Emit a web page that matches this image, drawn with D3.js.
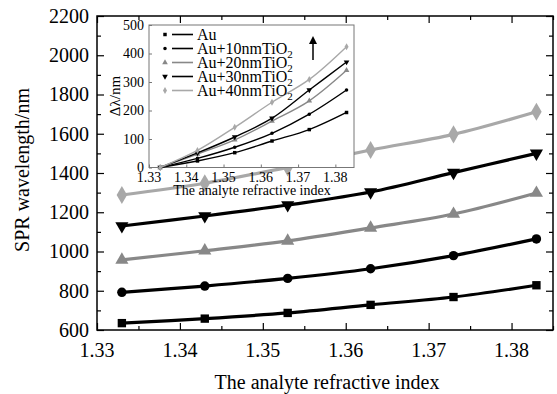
<html>
<head>
    <script src="https://d3js.org/d3.v7.min.js"></script>
    <style>
        body { margin: 0; background: #fff; }
        text { font-family: "Liberation Serif", "Times New Roman", serif; fill: #000; }
        .tick-label { font-size: 20px; }
        .axis-label { font-size: 20px; }
        .inset-label { font-size: 14px; }
    </style>
</head>
<body>
    <svg id="chart" width="557" height="394"></svg>
    <script>
        // data
        const refIndex = [1.333, 1.343, 1.353, 1.363, 1.373, 1.383];
        const au   = [635, 658, 687, 728, 768, 828];
        const au10 = [792, 824, 863, 912, 979, 1064];
        const au20 = [957, 1004, 1054, 1120, 1191, 1298];
        const au30 = [1130, 1181, 1237, 1303, 1402, 1500];
        const au40 = [1288, 1348, 1429, 1517, 1597, 1712];

        // inset: shift of resonance wavelength
        const dAu   = [0, 23, 52, 93, 133, 193];
        const dAu10 = [0, 32, 71, 120, 187, 272];
        const dAu20 = [0, 47, 97, 163, 234, 341];
        const dAu30 = [0, 51, 107, 173, 272, 370];
        const dAu40 = [0, 60, 141, 229, 309, 424];

        const seriesNames = ["Au", "Au+10nmTiO2", "Au+20nmTiO2", "Au+30nmTiO2", "Au+40nmTiO2"];
        const xTicks = [1.33, 1.34, 1.35, 1.36, 1.37, 1.38];
        const yTicks = [600, 800, 1000, 1200, 1400, 1600, 1800, 2000, 2200];
        const insetYTicks = [0, 100, 200, 300, 400, 500];

        const styles = [
            { color: "#000", symbol: d3.symbolSquare, size: 70, isize: 12 },
            { color: "#000", symbol: d3.symbolCircle, size: 70, isize: 10 },
            { color: "#888", symbol: d3.symbolTriangle, size: 75, isize: 14 },
            { color: "#000", symbol: d3.symbolTriangle, size: 75, isize: 14, flip: true },
            { color: "#a8a8a8", symbol: d3.symbolDiamond, size: 95, isize: 14 }
        ];

        const mainData = [au, au10, au20, au30, au40];
        const insetData = [dAu, dAu10, dAu20, dAu30, dAu40];

        const svg = d3.select("#chart");

        const pLeft = 97, pRight = 553, pTop = 16, pBottom = 330;
        const x = d3.scaleLinear().domain([1.33, 1.385]).range([pLeft, pRight]);
        const y = d3.scaleLinear().domain([600, 2200]).range([pBottom, pTop]);

        const minorX = d3.range(1.335, 1.385, 0.01);
        const minorY = d3.range(700, 2200, 200);

        // ticks, pointing inward on all four sides
        function ticks(g, axis, vals, size) {
            g.call(axis.tickValues(vals).tickSize(size).tickFormat(""));
            g.select(".domain").remove();
            g.selectAll("line").attr("stroke", "#000").attr("stroke-width", 1.2);
        }
        ticks(svg.append("g").attr("transform", `translate(0,${pBottom})`), d3.axisBottom(x), xTicks, -7);
        ticks(svg.append("g").attr("transform", `translate(0,${pBottom})`), d3.axisBottom(x), minorX, -4);
        ticks(svg.append("g").attr("transform", `translate(0,${pTop})`), d3.axisTop(x), xTicks, -7);
        ticks(svg.append("g").attr("transform", `translate(0,${pTop})`), d3.axisTop(x), minorX, -4);
        ticks(svg.append("g").attr("transform", `translate(${pLeft},0)`), d3.axisLeft(y), yTicks, -7);
        ticks(svg.append("g").attr("transform", `translate(${pLeft},0)`), d3.axisLeft(y), minorY, -4);
        ticks(svg.append("g").attr("transform", `translate(${pRight},0)`), d3.axisRight(y), yTicks, -7);
        ticks(svg.append("g").attr("transform", `translate(${pRight},0)`), d3.axisRight(y), minorY, -4);

        svg.append("rect")
            .attr("x", pLeft).attr("y", pTop)
            .attr("width", pRight - pLeft).attr("height", pBottom - pTop)
            .attr("fill", "none").attr("stroke", "#000").attr("stroke-width", 1.5);

        svg.selectAll(".xlab")
            .data(xTicks)
            .enter()
            .append("text")
            .attr("class", "tick-label")
            .attr("x", d => x(d))
            .attr("y", 357)
            .attr("text-anchor", "middle")
            .text(d => d.toFixed(2));

        svg.selectAll(".ylab")
            .data(yTicks)
            .enter()
            .append("text")
            .attr("class", "tick-label")
            .attr("x", 89)
            .attr("y", d => y(d))
            .attr("dy", "0.34em")
            .attr("text-anchor", "end")
            .text(d => d);

        svg.append("text")
            .attr("class", "axis-label")
            .attr("x", 327)
            .attr("y", 389)
            .attr("text-anchor", "middle")
            .text("The analyte refractive index");

        svg.append("text")
            .attr("class", "axis-label")
            .attr("transform", "translate(29,170)rotate(-90)")
            .attr("text-anchor", "middle")
            .text("SPR wavelength/nm");

        const line = d3.line()
            .x((d, i) => x(refIndex[i]))
            .y(d => y(d))
            .curve(d3.curveCatmullRom);

        mainData.forEach((vals, k) => {
            const st = styles[k];
            svg.append("path")
                .datum(vals)
                .attr("d", line)
                .attr("fill", "none")
                .attr("stroke", st.color)
                .attr("stroke-width", 3.2);
            svg.selectAll(".m" + k)
                .data(vals)
                .enter()
                .append("path")
                .attr("d", d3.symbol().type(st.symbol).size(st.size))
                .attr("transform", (d, i) => `translate(${x(refIndex[i])},${y(d)})${st.flip ? "rotate(180)" : ""}`)
                .attr("fill", st.color);
        });

        // inset
        const il = 149, ir = 354, it = 25, ib = 167.5;
        const ix = d3.scaleLinear().domain([1.33, 1.385]).range([il, ir]);
        const iy = d3.scaleLinear().domain([0, 500]).range([ib, it]);

        svg.append("rect")
            .attr("x", il).attr("y", it)
            .attr("width", ir - il).attr("height", ib - it)
            .attr("fill", "#fff").attr("stroke", "#777").attr("stroke-width", 1);

        function iticks(g, axis, vals) {
            g.call(axis.tickValues(vals).tickSize(-3).tickFormat(""));
            g.select(".domain").remove();
            g.selectAll("line").attr("stroke", "#777");
        }
        iticks(svg.append("g").attr("transform", `translate(0,${ib})`), d3.axisBottom(ix), xTicks);
        iticks(svg.append("g").attr("transform", `translate(${il},0)`), d3.axisLeft(iy), insetYTicks);

        svg.selectAll(".ixlab")
            .data(xTicks)
            .enter()
            .append("text")
            .attr("class", "inset-label")
            .attr("x", d => ix(d))
            .attr("y", 182)
            .attr("text-anchor", "middle")
            .text(d => d.toFixed(2));

        svg.selectAll(".iylab")
            .data(insetYTicks)
            .enter()
            .append("text")
            .attr("class", "inset-label")
            .attr("x", 144)
            .attr("y", d => iy(d))
            .attr("dy", "0.34em")
            .attr("text-anchor", "end")
            .text(d => d);

        svg.append("text")
            .attr("class", "inset-label")
            .attr("x", 252)
            .attr("y", 195)
            .attr("text-anchor", "middle")
            .text("The analyte refractive index");

        svg.append("text")
            .attr("class", "inset-label")
            .style("font-size", "15px")
            .attr("transform", "translate(120,96)rotate(-90)")
            .attr("text-anchor", "middle")
            .text("Δλ/nm");

        const iline = d3.line()
            .x((d, i) => ix(refIndex[i]))
            .y(d => iy(d))
            .curve(d3.curveCatmullRom);

        insetData.forEach((vals, k) => {
            const st = styles[k];
            svg.append("path")
                .datum(vals)
                .attr("d", iline)
                .attr("fill", "none")
                .attr("stroke", st.color)
                .attr("stroke-width", 1.4);
            svg.selectAll(".im" + k)
                .data(vals)
                .enter()
                .append("path")
                .attr("d", d3.symbol().type(st.symbol).size(st.isize))
                .attr("transform", (d, i) => `translate(${ix(refIndex[i])},${iy(d)})${st.flip ? "rotate(180)" : ""}`)
                .attr("fill", st.color);
        });

        // legend
        const legend = svg.append("g");
        seriesNames.forEach((name, k) => {
            const st = styles[k];
            const ly = 34.5 + k * 14;
            legend.append("path")
                .attr("d", d3.symbol().type(st.symbol).size(st.isize))
                .attr("transform", `translate(165,${ly})${st.flip ? "rotate(180)" : ""}`)
                .attr("fill", st.color);
            legend.append("line")
                .attr("x1", 172).attr("x2", 193)
                .attr("y1", ly).attr("y2", ly)
                .attr("stroke", st.color).attr("stroke-width", 1.6);
            const t = legend.append("text")
                .attr("class", "inset-label")
                .style("font-size", "16px")
                .attr("x", 197)
                .attr("y", ly + 5);
            if (name.endsWith("TiO2")) {
                t.append("tspan").text(name.slice(0, -1));
                t.append("tspan").attr("dy", 4).style("font-size", "11px").text("2");
            } else {
                t.text(name);
            }
        });

        // arrow
        svg.append("line")
            .attr("x1", 313).attr("x2", 313)
            .attr("y1", 60).attr("y2", 42)
            .attr("stroke", "#000").attr("stroke-width", 1.5);
        svg.append("path")
            .attr("d", "M309,44 L313,36 L317,44 Z")
            .attr("fill", "#000");
    </script>
</body>
</html>
